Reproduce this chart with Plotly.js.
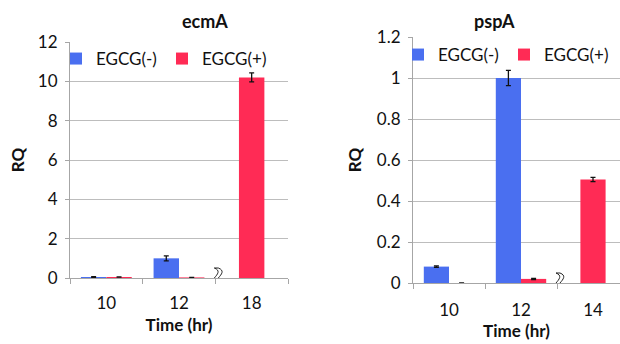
<!DOCTYPE html>
<html><head><meta charset="utf-8">
<script src="https://cdn.plot.ly/plotly-3.0.1.min.js"></script>
<style>html,body{margin:0;padding:0;background:#fff}#c{width:620px;height:344px}</style>
</head><body><div id="c"></div>
<script>
// ecmA panel
const ecmTimes = ['10', '12', '18'];
const ecmMinus = [0.05, 1.0, null];
const ecmMinusErr = [0.02, 0.13, 0];
const ecmPlus = [0.05, 0.03, 10.2];
const ecmPlusErr = [0, 0, 0.23];
// pspA panel
const pspTimes = ['10', '12', '14'];
const pspMinus = [0.08, 1.0, null];
const pspMinusErr = [0.004, 0.037, 0];
const pspPlus = [0, 0.02, 0.505];
const pspPlusErr = [0, 0.003, 0.01];
const seriesNames = ['EGCG(-)', 'EGCG(+)'];

const BLUE = '#4a6ff0', RED = '#ff2b55';
const FONT = 'Lato, Open Sans, sans-serif';
const TXT = '#111';
const W = 0.35;
function errb(a){return {type:'data', array:a, visible:true, color:'#111', thickness:1.3, width:2.5};}

const traces = [
  {type:'bar', x:ecmTimes, y:ecmMinus, name:seriesNames[0], marker:{color:BLUE}, error_y:errb(ecmMinusErr),
   width:W, offset:[-W,-W,-W/2], xaxis:'x', yaxis:'y', legend:'legend'},
  {type:'bar', x:ecmTimes, y:ecmPlus, name:seriesNames[1], marker:{color:RED}, error_y:errb(ecmPlusErr),
   width:W, offset:[0,0,-W/2], xaxis:'x', yaxis:'y', legend:'legend'},
  {type:'bar', x:pspTimes, y:pspMinus, name:seriesNames[0], marker:{color:BLUE}, error_y:errb(pspMinusErr),
   width:W, offset:[-W,-W,-W/2], xaxis:'x2', yaxis:'y2', legend:'legend2'},
  {type:'bar', x:pspTimes, y:pspPlus, name:seriesNames[1], marker:{color:RED}, error_y:errb(pspPlusErr),
   width:W, offset:[0,0,-W/2], xaxis:'x2', yaxis:'y2', legend:'legend2'}
];

const axX = {type:'category', showgrid:false, showline:true, linecolor:'#a6a6a6', linewidth:1,
  ticks:'outside', tickson:'boundaries', ticklen:5, tickcolor:'#a6a6a6',
  tickfont:{family:FONT, size:17, color:TXT}, fixedrange:true, automargin:false};
const axY = {showgrid:true, gridcolor:'#bdbdbd', gridwidth:1, showline:true, linecolor:'#a6a6a6',
  ticks:'outside', ticklen:4, tickcolor:'#a6a6a6', zeroline:false,
  tickfont:{family:FONT, size:17, color:TXT}, automargin:false};

const squiggle = 'M-1,10 C 12,5 -14,-5 -1,-10 L 3,-10 C -10,-5 16,5 3,10 Z';
const ttl = {family:FONT, size:17, weight:'bold', color:TXT};

const layout = {
  width:620, height:344, margin:{l:0,r:0,t:0,b:0}, paper_bgcolor:'#fff', plot_bgcolor:'#fff',
  barmode:'group', showlegend:true,
  font:{family:FONT, color:TXT},
  xaxis:Object.assign({}, axX, {domain:[70/620, 288/620], range:[-0.5, 2.5], anchor:'y', ticklabelstandoff:10,
    title:{text:'Time (hr)', font:ttl, standoff:6}}),
  yaxis:Object.assign({}, axY, {domain:[1-278/344, 1-42/344], range:[0,12], dtick:2, anchor:'x', ticklabelstandoff:4,
    title:{text:'RQ', font:ttl, standoff:8}}),
  xaxis2:Object.assign({}, axX, {domain:[413/620, 1], range:[-0.5, 2.375], anchor:'y2', ticklabelstandoff:12,
    title:{text:'Time (hr)', font:ttl, standoff:2}}),
  yaxis2:Object.assign({}, axY, {domain:[1-283/344, 1-37/344], range:[0,1.2], dtick:0.2, anchor:'x2', ticklabelstandoff:4,
    title:{text:'RQ', font:ttl, standoff:10}}),
  legend:{x:56/620, y:1-41/344, xanchor:'left', yanchor:'top', orientation:'h', bgcolor:'rgba(0,0,0,0)',
    font:{family:FONT, size:17, color:TXT}, itemwidth:30, tracegroupgap:0, entrywidth:61},
  legend2:{x:398/620, y:1-37/344, xanchor:'left', yanchor:'top', orientation:'h', bgcolor:'rgba(0,0,0,0)',
    font:{family:FONT, size:17, color:TXT}, itemwidth:30, tracegroupgap:0, entrywidth:61},
  annotations:[
    {xref:'paper', yref:'paper', x:180/620, y:1-21/344, yanchor:'middle', text:'<b>ecmA</b>', showarrow:false,
     font:{family:FONT, size:18, color:TXT}},
    {xref:'paper', yref:'paper', x:517/620, y:1-21/344, yanchor:'middle', text:'<b>pspA</b>', showarrow:false,
     font:{family:FONT, size:18, color:TXT}}
  ],
  shapes:[
    {type:'path', xref:'x', yref:'y', xsizemode:'pixel', ysizemode:'pixel', xanchor:1.5, yanchor:0,
     path:squiggle, fillcolor:'#fff', line:{color:'#222', width:1}},
    {type:'path', xref:'x2', yref:'y2', xsizemode:'pixel', ysizemode:'pixel', xanchor:1.5, yanchor:0,
     path:squiggle, fillcolor:'#fff', line:{color:'#222', width:1}}
  ]
};
Plotly.newPlot('c', traces, layout, {staticPlot:true, displayModeBar:false});
</script></body></html>
